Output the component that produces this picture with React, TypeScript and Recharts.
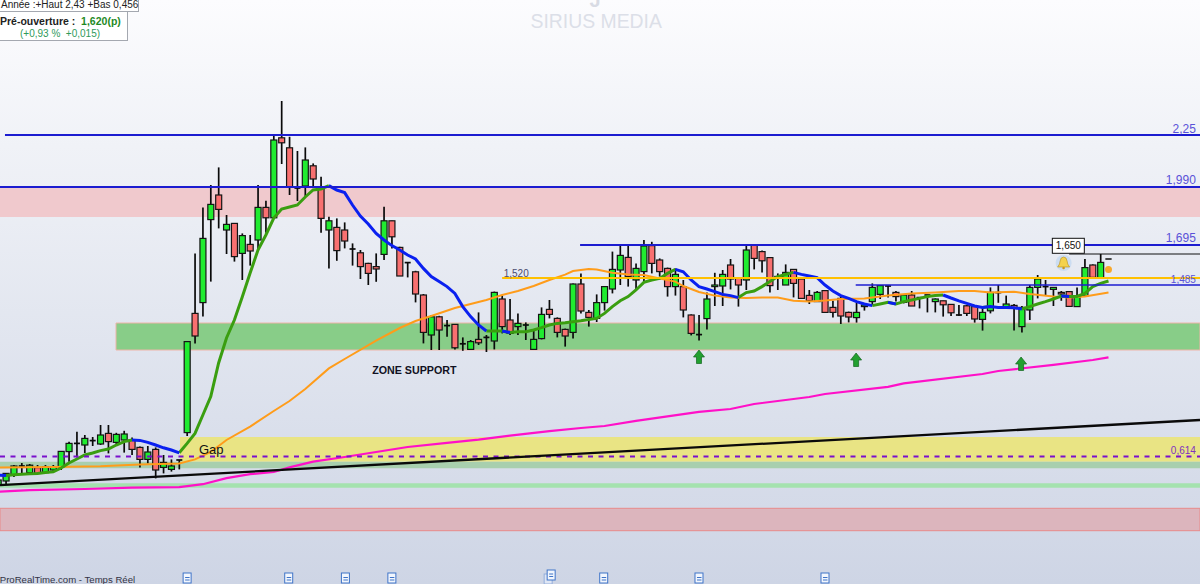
import React from "react";
import { ComposedChart, Bar, Line, XAxis, YAxis, ReferenceArea, ReferenceLine, ReferenceDot } from "recharts";

const firstIdx = -1;
const opens = [
  0.5, 0.52, 0.55, 0.588, 0.562, 0.587, 0.562, 0.575, 0.588, 0.667,
  0.708, 0.7, 0.715, 0.705, 0.758, 0.713, 0.725, 0.725, 0.688, 0.628,
  0.678, 0.588, 0.578, 0.625, 0.762, 1.358, 1.412, 1.827, 1.95, 1.775,
  1.808, 1.658, 1.703, 1.725, 1.888, 1.836, 2.236, 2.186, 1.985, 1.995,
  2.096, 1.992, 1.775, 1.788, 1.775, 1.68, 1.661, 1.608, 1.592, 1.653,
  1.821, 1.688, 1.612, 1.566, 1.45, 1.25, 1.341, 1.297, 1.303, 1.206,
  1.178, 1.228, 1.238, 1.22, 1.43, 1.325, 1.292, 1.3, 1.178, 1.232,
  1.378, 1.333, 1.278, 1.263, 1.505, 1.363, 1.333, 1.412, 1.48, 1.575,
  1.638, 1.525, 1.567, 1.697, 1.625, 1.583, 1.492, 1.492, 1.35, 1.252,
  1.332, 1.492, 1.495, 1.6, 1.533, 1.525, 1.7, 1.667, 1.637, 1.535,
  1.5, 1.578, 1.53, 1.448, 1.417, 1.472, 1.388, 1.433, 1.363, 1.337,
  1.392, 1.417, 1.453, 1.495, 1.463, 1.413, 1.45, 1.437, 1.45, 1.417,
  1.421, 1.403, 1.35, 1.396, 1.392, 1.328, 1.371, 1.462, 1.392, 1.398,
  1.292, 1.375, 1.488, 1.492, 1.478, 1.463, 1.467, 1.392, 1.445, 1.6,
  1.537,
];
const closes = [
  0.525, 0.558, 0.595, 0.595, 0.599, 0.558, 0.592, 0.59, 0.668, 0.708,
  0.705, 0.733, 0.722, 0.75, 0.717, 0.753, 0.755, 0.678, 0.628, 0.665,
  0.575, 0.613, 0.595, 0.62, 1.217, 1.245, 1.733, 1.903, 1.878, 1.803,
  1.642, 1.747, 1.67, 1.888, 1.836, 2.225, 2.211, 1.992, 1.982, 2.125,
  2.03, 1.833, 1.821, 1.672, 1.72, 1.677, 1.592, 1.558, 1.58, 1.821,
  1.741, 1.545, 1.609, 1.455, 1.263, 1.341, 1.275, 1.294, 1.186, 1.203,
  1.217, 1.211, 1.235, 1.463, 1.292, 1.258, 1.308, 1.297, 1.228, 1.353,
  1.353, 1.263, 1.245, 1.505, 1.37, 1.338, 1.412, 1.492, 1.578, 1.648,
  1.542, 1.583, 1.695, 1.608, 1.567, 1.492, 1.553, 1.375, 1.258, 1.249,
  1.43, 1.5, 1.553, 1.53, 1.5, 1.675, 1.633, 1.621, 1.497, 1.543,
  1.563, 1.508, 1.433, 1.421, 1.463, 1.363, 1.363, 1.345, 1.34, 1.363,
  1.4, 1.488, 1.497, 1.492, 1.442, 1.45, 1.395, 1.434, 1.447, 1.43,
  1.401, 1.361, 1.347, 1.358, 1.33, 1.363, 1.463, 1.459, 1.405, 1.385,
  1.388, 1.488, 1.53, 1.489, 1.488, 1.455, 1.393, 1.447, 1.587, 1.538,
  1.613,
];
const highs = [
  0.535, 0.56, 0.6, 0.61, 0.605, 0.6, 0.6, 0.6, 0.67, 0.716,
  0.766, 0.75, 0.74, 0.8, 0.8, 0.761, 0.771, 0.738, 0.692, 0.695,
  0.688, 0.65, 0.628, 0.625, 1.22, 1.658, 1.888, 2.0, 2.088, 1.85,
  1.808, 1.758, 1.75, 2.0, 1.921, 2.255, 2.42, 2.241, 2.17, 2.188,
  2.108, 2.041, 1.841, 1.833, 1.813, 1.708, 1.675, 1.611, 1.658, 1.891,
  1.821, 1.691, 1.612, 1.571, 1.455, 1.35, 1.346, 1.325, 1.303, 1.238,
  1.225, 1.363, 1.25, 1.467, 1.447, 1.43, 1.358, 1.313, 1.275, 1.388,
  1.425, 1.338, 1.282, 1.508, 1.558, 1.375, 1.453, 1.492, 1.667, 1.7,
  1.7, 1.608, 1.725, 1.716, 1.633, 1.587, 1.583, 1.525, 1.353, 1.35,
  1.463, 1.561, 1.575, 1.63, 1.538, 1.7, 1.7, 1.672, 1.637, 1.558,
  1.603, 1.578, 1.533, 1.475, 1.47, 1.475, 1.421, 1.442, 1.367, 1.412,
  1.405, 1.508, 1.497, 1.495, 1.47, 1.455, 1.47, 1.437, 1.45, 1.433,
  1.421, 1.405, 1.4, 1.4, 1.392, 1.385, 1.488, 1.5, 1.447, 1.405,
  1.395, 1.5, 1.55, 1.525, 1.488, 1.47, 1.47, 1.488, 1.63, 1.603,
  1.655,
];
const lows = [
  0.49, 0.505, 0.54, 0.56, 0.56, 0.555, 0.56, 0.565, 0.575, 0.616,
  0.638, 0.66, 0.695, 0.7, 0.658, 0.705, 0.662, 0.65, 0.588, 0.608,
  0.533, 0.558, 0.567, 0.578, 0.745, 1.208, 1.342, 1.517, 1.783, 1.655,
  1.617, 1.525, 1.597, 1.675, 1.761, 1.833, 2.105, 1.95, 1.92, 1.941,
  1.992, 1.761, 1.583, 1.621, 1.683, 1.597, 1.53, 1.5, 1.516, 1.625,
  1.683, 1.545, 1.538, 1.413, 1.208, 1.175, 1.175, 1.241, 1.178, 1.171,
  1.175, 1.2, 1.165, 1.178, 1.258, 1.25, 1.25, 1.225, 1.178, 1.228,
  1.333, 1.238, 1.192, 1.233, 1.358, 1.292, 1.315, 1.372, 1.458, 1.5,
  1.492, 1.478, 1.513, 1.558, 1.542, 1.442, 1.447, 1.338, 1.248, 1.222,
  1.278, 1.395, 1.395, 1.478, 1.392, 1.475, 1.578, 1.563, 1.462, 1.475,
  1.5, 1.438, 1.433, 1.405, 1.417, 1.363, 1.337, 1.305, 1.313, 1.312,
  1.372, 1.4, 1.43, 1.438, 1.417, 1.408, 1.395, 1.383, 1.363, 1.363,
  1.342, 1.345, 1.346, 1.345, 1.312, 1.272, 1.358, 1.411, 1.392, 1.272,
  1.263, 1.325, 1.433, 1.447, 1.395, 1.421, 1.393, 1.392, 1.442, 1.538,
  1.537,
];
const trendMa = [
  0.55, 0.547, 0.551, 0.554, 0.556, 0.558, 0.563, 0.566, 0.585, 0.61,
  0.63, 0.65, 0.66, 0.672, 0.68, 0.7, 0.717, 0.725, 0.723, 0.713,
  0.7, 0.686, 0.675, 0.661, 0.708, 0.758, 0.85, 0.942, 1.11, 1.235,
  1.325, 1.44, 1.56, 1.675, 1.75, 1.835, 1.88, 1.89, 1.9, 1.94,
  1.975, 1.98, 1.997, 1.975, 1.962, 1.9, 1.845, 1.805, 1.758, 1.725,
  1.697, 1.675, 1.65, 1.63, 1.583, 1.542, 1.517, 1.492, 1.458, 1.392,
  1.342, 1.3, 1.27, 1.27, 1.27, 1.263, 1.266, 1.266, 1.275, 1.287,
  1.3, 1.308, 1.311, 1.316, 1.321, 1.328, 1.333, 1.358, 1.392, 1.421,
  1.442, 1.475, 1.513, 1.525, 1.533, 1.558, 1.578, 1.566, 1.525, 1.492,
  1.48, 1.467, 1.453, 1.447, 1.437, 1.462, 1.47, 1.492, 1.517, 1.542,
  1.553, 1.563, 1.553, 1.545, 1.537, 1.5, 1.47, 1.447, 1.433, 1.417,
  1.405, 1.397, 1.405, 1.413, 1.405, 1.417, 1.425, 1.433, 1.442, 1.447,
  1.45, 1.435, 1.421, 1.408, 1.395, 1.388, 1.392, 1.388, 1.387, 1.386,
  1.38, 1.392, 1.405, 1.417, 1.43, 1.445, 1.442, 1.443, 1.458, 1.492,
  1.508, 1.52,
];
const orangeIdx = [-1, 6, 12, 17, 22, 24, 26, 28, 31, 34, 36, 38, 41, 43, 47, 50, 52, 54, 57, 59, 61, 63, 65, 67, 69, 71, 72, 74, 75, 77, 79, 81, 83, 85, 86, 88, 90, 92, 94, 96, 98, 100, 102, 104, 106, 109, 112, 115, 118, 121, 123, 125, 128, 130, 133, 135, 137, 140];
const orangeVal = [0.588, 0.59, 0.594, 0.603, 0.608, 0.628, 0.665, 0.725, 0.792, 0.87, 0.92, 0.98, 1.083, 1.13, 1.222, 1.285, 1.32, 1.345, 1.385, 1.405, 1.425, 1.45, 1.47, 1.495, 1.525, 1.552, 1.57, 1.58, 1.578, 1.561, 1.553, 1.55, 1.533, 1.517, 1.495, 1.465, 1.447, 1.437, 1.435, 1.437, 1.437, 1.421, 1.417, 1.422, 1.43, 1.433, 1.447, 1.458, 1.463, 1.47, 1.47, 1.463, 1.466, 1.455, 1.442, 1.437, 1.442, 1.463];
const magentaIdx = [-1, 3, 10, 16, 22, 25, 28, 31, 34, 36, 39, 43, 47, 51, 56, 60, 64, 69, 73, 76, 80, 82, 88, 92, 95, 102, 104, 112, 114, 124, 126, 133, 138, 140];
const magentaVal = [0.466, 0.474, 0.48, 0.487, 0.489, 0.504, 0.534, 0.554, 0.565, 0.588, 0.617, 0.64, 0.665, 0.69, 0.711, 0.727, 0.747, 0.769, 0.785, 0.795, 0.821, 0.832, 0.866, 0.88, 0.905, 0.94, 0.955, 0.991, 1.008, 1.055, 1.07, 1.101, 1.125, 1.138];

const xMin = -0.762;
const xMax = 151.62;
const yMin = 0.005;
const yMax = 2.925;

const bands = [
  { x1: xMin, y1: 1.99, y2: 1.84, fill: "#f0c9cd", stroke: "none" },
  { x1: 13.97, y1: 1.31, y2: 1.175, fill: "#88cd88", stroke: "#eeb4a8" },
  { x1: 22.1, y1: 0.74, y2: 0.6165, fill: "#e9e484", stroke: "none" },
  { x1: xMin, y1: 0.6165, y2: 0.5835, fill: "#a8cfae", stroke: "none" },
  { x1: xMin, y1: 0.5085, y2: 0.4865, fill: "#a4e2ae", stroke: "none" },
  { x1: xMin, y1: 0.3835, y2: 0.2715, fill: "#dcb5bd", stroke: "#e88a8a" },
];
const levels = [
  { x1: -0.13, v: 2.25, color: "#1c1cd0", width: 2, dash: undefined },
  { x1: xMin, v: 1.99, color: "#1c1cd0", width: 2, dash: undefined },
  { x1: 72.9, v: 1.7, color: "#1c1cd0", width: 2, dash: undefined },
  { x1: 63, v: 1.535, color: "#ffc000", width: 2, dash: undefined },
  { x1: 107.9, v: 1.5, color: "#1c1cd0", width: 1.6, dash: undefined },
  { x1: xMin, v: 0.6425, color: "#7a10cc", width: 2, dash: "5 5.5" },
  { x1: 135, v: 1.655, color: "#111111", width: 1, dash: undefined },
];
const trendPoints = [
  { x: xMin, y: 0.499 },
  { x: xMax, y: 0.825 },
];
const texts = [
  { x: 151.1, y: 2.26, t: "2,25", a: "end", s: 12, w: 400, c: "#5a52d8" },
  { x: 151.1, y: 2.005, t: "1,990", a: "end", s: 12, w: 400, c: "#5a52d8" },
  { x: 151.1, y: 1.715, t: "1,695", a: "end", s: 12, w: 400, c: "#5a52d8" },
  { x: 151.1, y: 1.511, t: "1,485", a: "end", s: 10, w: 400, c: "#5a52d8" },
  { x: 151.1, y: 0.655, t: "0,614", a: "end", s: 10, w: 400, c: "#8030c0" },
  { x: 63.2, y: 1.5415, t: "1,520", a: "start", s: 10, w: 400, c: "#4c4c70" },
  { x: 24.5, y: 0.655, t: "Gap", a: "start", s: 13, w: 400, c: "#111111" },
  { x: 46.5, y: 1.055, t: "ZONE SUPPORT", a: "start", s: 10.7, w: 700, c: "#111122" },
  { x: 66.6, y: 2.7835, t: "SIRIUS MEDIA", a: "start", s: 19.4, w: 400, c: "#dcdfe8" },
  { x: 74.8, y: 2.89, t: "J", a: "middle", s: 20, w: 700, c: "#d8dbe4" },
  { x: 16.4, y: 0.011, t: "ProRealTime.com - Temps Réel", a: "end", s: 9.6, w: 400, c: "#333344" },
];
const arrows = [
  { x: 88, y: 1.14 },
  { x: 107.95, y: 1.125 },
  { x: 128.9, y: 1.105 },
];
const noteIdx = [23, 35.9, 43.1, 49, 75.9, 88, 104];
const doubleNoteIdx = [69.1];
const rows = opens.map((o, i) => ({
  idx: i + firstIdx,
  open: o,
  close: closes[i],
  range: [lows[i], highs[i]],
}));
rows.push({ idx: 140, open: null, close: null, range: null } as any);
const table = rows.map((r: any, i: number) => {
  const here = trendMa[i];
  const prev = i > 0 ? trendMa[i - 1] : null;
  const next = i < trendMa.length - 1 ? trendMa[i + 1] : null;
  const segBlue = (a: number | null, b: number | null) => a !== null && b !== null && b < a;
  const segGreen = (a: number | null, b: number | null) => a !== null && b !== null && b >= a;
  const oi = orangeIdx.indexOf(r.idx);
  const mi = magentaIdx.indexOf(r.idx);
  return {
    ...r,
    up: segGreen(prev, here) || segGreen(here, next) ? here : null,
    down: segBlue(prev, here) || segBlue(here, next) ? here : null,
    orange: oi >= 0 ? orangeVal[oi] : null,
    magenta: mi >= 0 ? magentaVal[mi] : null,
  };
});

const Candle = (props: any) => {
  const { x, y, width, height, payload } = props;
  if (!payload || !payload.range) return null;
  const [low, high] = payload.range;
  const top = Math.min(y, y + height);
  const h = Math.abs(height);
  const toPx = (v: number) => top + ((high - v) / (high - low)) * h;
  const cx = x + width / 2;
  const bTop = toPx(Math.max(payload.open, payload.close));
  const bBot = toPx(Math.min(payload.open, payload.close));
  const up = payload.close >= payload.open;
  const thin = bBot - bTop < 1.5;
  return (
    <g>
      <line x1={cx} x2={cx} y1={top} y2={top + h} stroke="#0a0a0a" strokeWidth={1.7} />
      {thin ? (
        <line x1={x} x2={x + width} y1={bTop} y2={bTop} stroke="#0a0a0a" strokeWidth={1.7} />
      ) : (
        <rect x={x} y={bTop} width={width} height={bBot - bTop} fill={up ? "#20ec30" : "#f87070"} stroke="#151515" strokeWidth={1.2} />
      )}
    </g>
  );
};

const makeText = (d: any) => (p: any) => (
  <text x={p.cx} y={p.cy} textAnchor={d.a} fontSize={d.s} fontWeight={d.w} fill={d.c} fontFamily="'Liberation Sans', Arial, sans-serif">
    {d.t}
  </text>
);
const ArrowShape = (p: any) => (
  <path
    d={`M${p.cx} ${p.cy - 7} L${p.cx + 5.5} ${p.cy} L${p.cx + 2.5} ${p.cy} L${p.cx + 2.5} ${p.cy + 6.5} L${p.cx - 2.5} ${p.cy + 6.5} L${p.cx - 2.5} ${p.cy} L${p.cx - 5.5} ${p.cy} Z`}
    fill="#22a030"
    stroke="#13651e"
    strokeWidth={0.7}
  />
);
const NoteShape = (p: any) => (
  <g>
    <rect x={p.cx - 4} y={p.cy - 5} width={8} height={10} fill="#f2f6fd" stroke="#3f74c8" strokeWidth={1} />
    <line x1={p.cx - 2} x2={p.cx + 2.5} y1={p.cy - 0.5} y2={p.cy - 0.5} stroke="#3f74c8" />
    <line x1={p.cx - 2} x2={p.cx + 2.5} y1={p.cy + 2} y2={p.cy + 2} stroke="#3f74c8" />
  </g>
);
const DoubleNoteShape = (p: any) => (
  <g>
    <rect x={p.cx - 6} y={p.cy - 3} width={8} height={10} fill="#dfe6f4" stroke="#94aedb" strokeWidth={1} />
    <rect x={p.cx - 3} y={p.cy - 7} width={8} height={10} fill="#f2f6fd" stroke="#3f74c8" strokeWidth={1} />
    <line x1={p.cx - 1} x2={p.cx + 3} y1={p.cy - 3} y2={p.cy - 3} stroke="#3f74c8" />
    <line x1={p.cx - 1} x2={p.cx + 3} y1={p.cy - 0.5} y2={p.cy - 0.5} stroke="#3f74c8" />
  </g>
);
const BellShape = (p: any) => (
  <g>
    <circle cx={p.cx} cy={p.cy} r={8} fill="#c9dcf2" opacity={0.9} />
    <path
      d={`M${p.cx - 6} ${p.cy + 4} Q${p.cx - 3.5} ${p.cy + 1} ${p.cx - 3.5} ${p.cy - 2} Q${p.cx - 3} ${p.cy - 6} ${p.cx} ${p.cy - 6} Q${p.cx + 3} ${p.cy - 6} ${p.cx + 3.5} ${p.cy - 2} Q${p.cx + 3.5} ${p.cy + 1} ${p.cx + 6} ${p.cy + 4} Z`}
      fill="#f4d24c"
      stroke="#b78f1c"
      strokeWidth={0.6}
    />
    <circle cx={p.cx} cy={p.cy + 5} r={1.3} fill="#c9971d" />
  </g>
);
const PriceBox = (p: any) => (
  <g>
    <rect x={p.cx - 16} y={p.cy - 7.5} width={32} height={15} fill="#ffffff" stroke="#111" strokeWidth={1} />
    <text x={p.cx} y={p.cy + 3.5} textAnchor="middle" fontSize={10} fill="#111" fontFamily="'Liberation Sans', Arial, sans-serif">
      1,650
    </text>
  </g>
);

const boxText: React.CSSProperties = {
  position: "absolute",
  fontFamily: "'Liberation Sans', Arial, sans-serif",
  whiteSpace: "pre",
  lineHeight: "12px",
};

export default function App() {
  return (
    <div
      style={{
        position: "absolute",
        left: 0,
        top: 0,
        width: 1200,
        height: 584,
        overflow: "hidden",
        background: "linear-gradient(#fcfcfe, #f0f2f7 25%, #ced5e5)",
      }}
    >
      <ComposedChart width={1200} height={584} data={table} margin={{ top: 0, right: 0, bottom: 0, left: 0 }}>
        <XAxis dataKey="idx" type="number" domain={[xMin, xMax]} allowDataOverflow hide />
        <YAxis type="number" domain={[yMin, yMax]} allowDataOverflow hide />
        {bands.map((b, i) => (
          <ReferenceArea key={i} x1={b.x1} x2={xMax} y1={b.y1} y2={b.y2} fill={b.fill} fillOpacity={1} stroke={b.stroke} />
        ))}
        <Bar dataKey="range" barSize={6} shape={Candle} isAnimationActive={false} />
        <Line dataKey="magenta" stroke="#ff10c8" strokeWidth={2.2} dot={false} connectNulls isAnimationActive={false} />
        <Line dataKey="orange" stroke="#ff9c1a" strokeWidth={2} dot={false} connectNulls isAnimationActive={false} />
        <Line dataKey="up" stroke="#3a9e10" strokeWidth={3} dot={false} isAnimationActive={false} />
        <Line dataKey="down" stroke="#0a20f0" strokeWidth={3} dot={false} isAnimationActive={false} />
        {levels.map((l, i) => (
          <ReferenceLine
            key={i}
            segment={[
              { x: l.x1, y: l.v },
              { x: xMax, y: l.v },
            ]}
            stroke={l.color}
            strokeWidth={l.width}
            strokeDasharray={l.dash}
          />
        ))}
        <ReferenceLine segment={trendPoints} stroke="#0a0a0a" strokeWidth={2.3} />
        <ReferenceLine
          segment={[
            { x: 139.6, y: 1.63 },
            { x: 140.4, y: 1.63 },
          ]}
          stroke="#111"
          strokeWidth={1.5}
        />
        {arrows.map((a, i) => (
          <ReferenceDot key={i} x={a.x} y={a.y} shape={ArrowShape} />
        ))}
        {noteIdx.map((x) => (
          <ReferenceDot key={x} x={x} y={0.035} shape={NoteShape} />
        ))}
        {doubleNoteIdx.map((x) => (
          <ReferenceDot key={x} x={x} y={0.04} shape={DoubleNoteShape} />
        ))}
        <ReferenceDot x={134.3} y={1.61} shape={BellShape} />
        <ReferenceDot x={140} y={1.578} r={3.5} fill="#f8a82c" stroke="none" />
        <ReferenceDot x={134.9} y={1.696} shape={PriceBox} />
        {texts.map((d, i) => (
          <ReferenceDot key={i} x={d.x} y={d.y} shape={makeText(d)} />
        ))}
      </ComposedChart>
      <div
        style={{
          position: "absolute",
          left: -3,
          top: -8,
          width: 140,
          height: 18,
          background: "#fff",
          border: "1px solid #a4a8b0",
        }}
      >
        <div style={{ ...boxText, left: 3, top: 6, fontSize: 10, color: "#222" }}>Année :+Haut 2,43 +Bas 0,456</div>
      </div>
      <div
        style={{
          position: "absolute",
          left: -3,
          top: 11,
          width: 129,
          height: 28,
          background: "#fff",
          border: "1px solid #a4a8b0",
        }}
      >
        <div style={{ ...boxText, left: 2, top: 3, fontSize: 10.5, fontWeight: 700, color: "#222" }}>
          Pré-ouverture :  <span style={{ color: "#1f8a1f" }}>1,620(p)</span>
        </div>
        <div style={{ ...boxText, left: 22, top: 16, fontSize: 10, color: "#2f9a5a" }}>(+0,93 %  +0,015)</div>
      </div>
    </div>
  );
}
